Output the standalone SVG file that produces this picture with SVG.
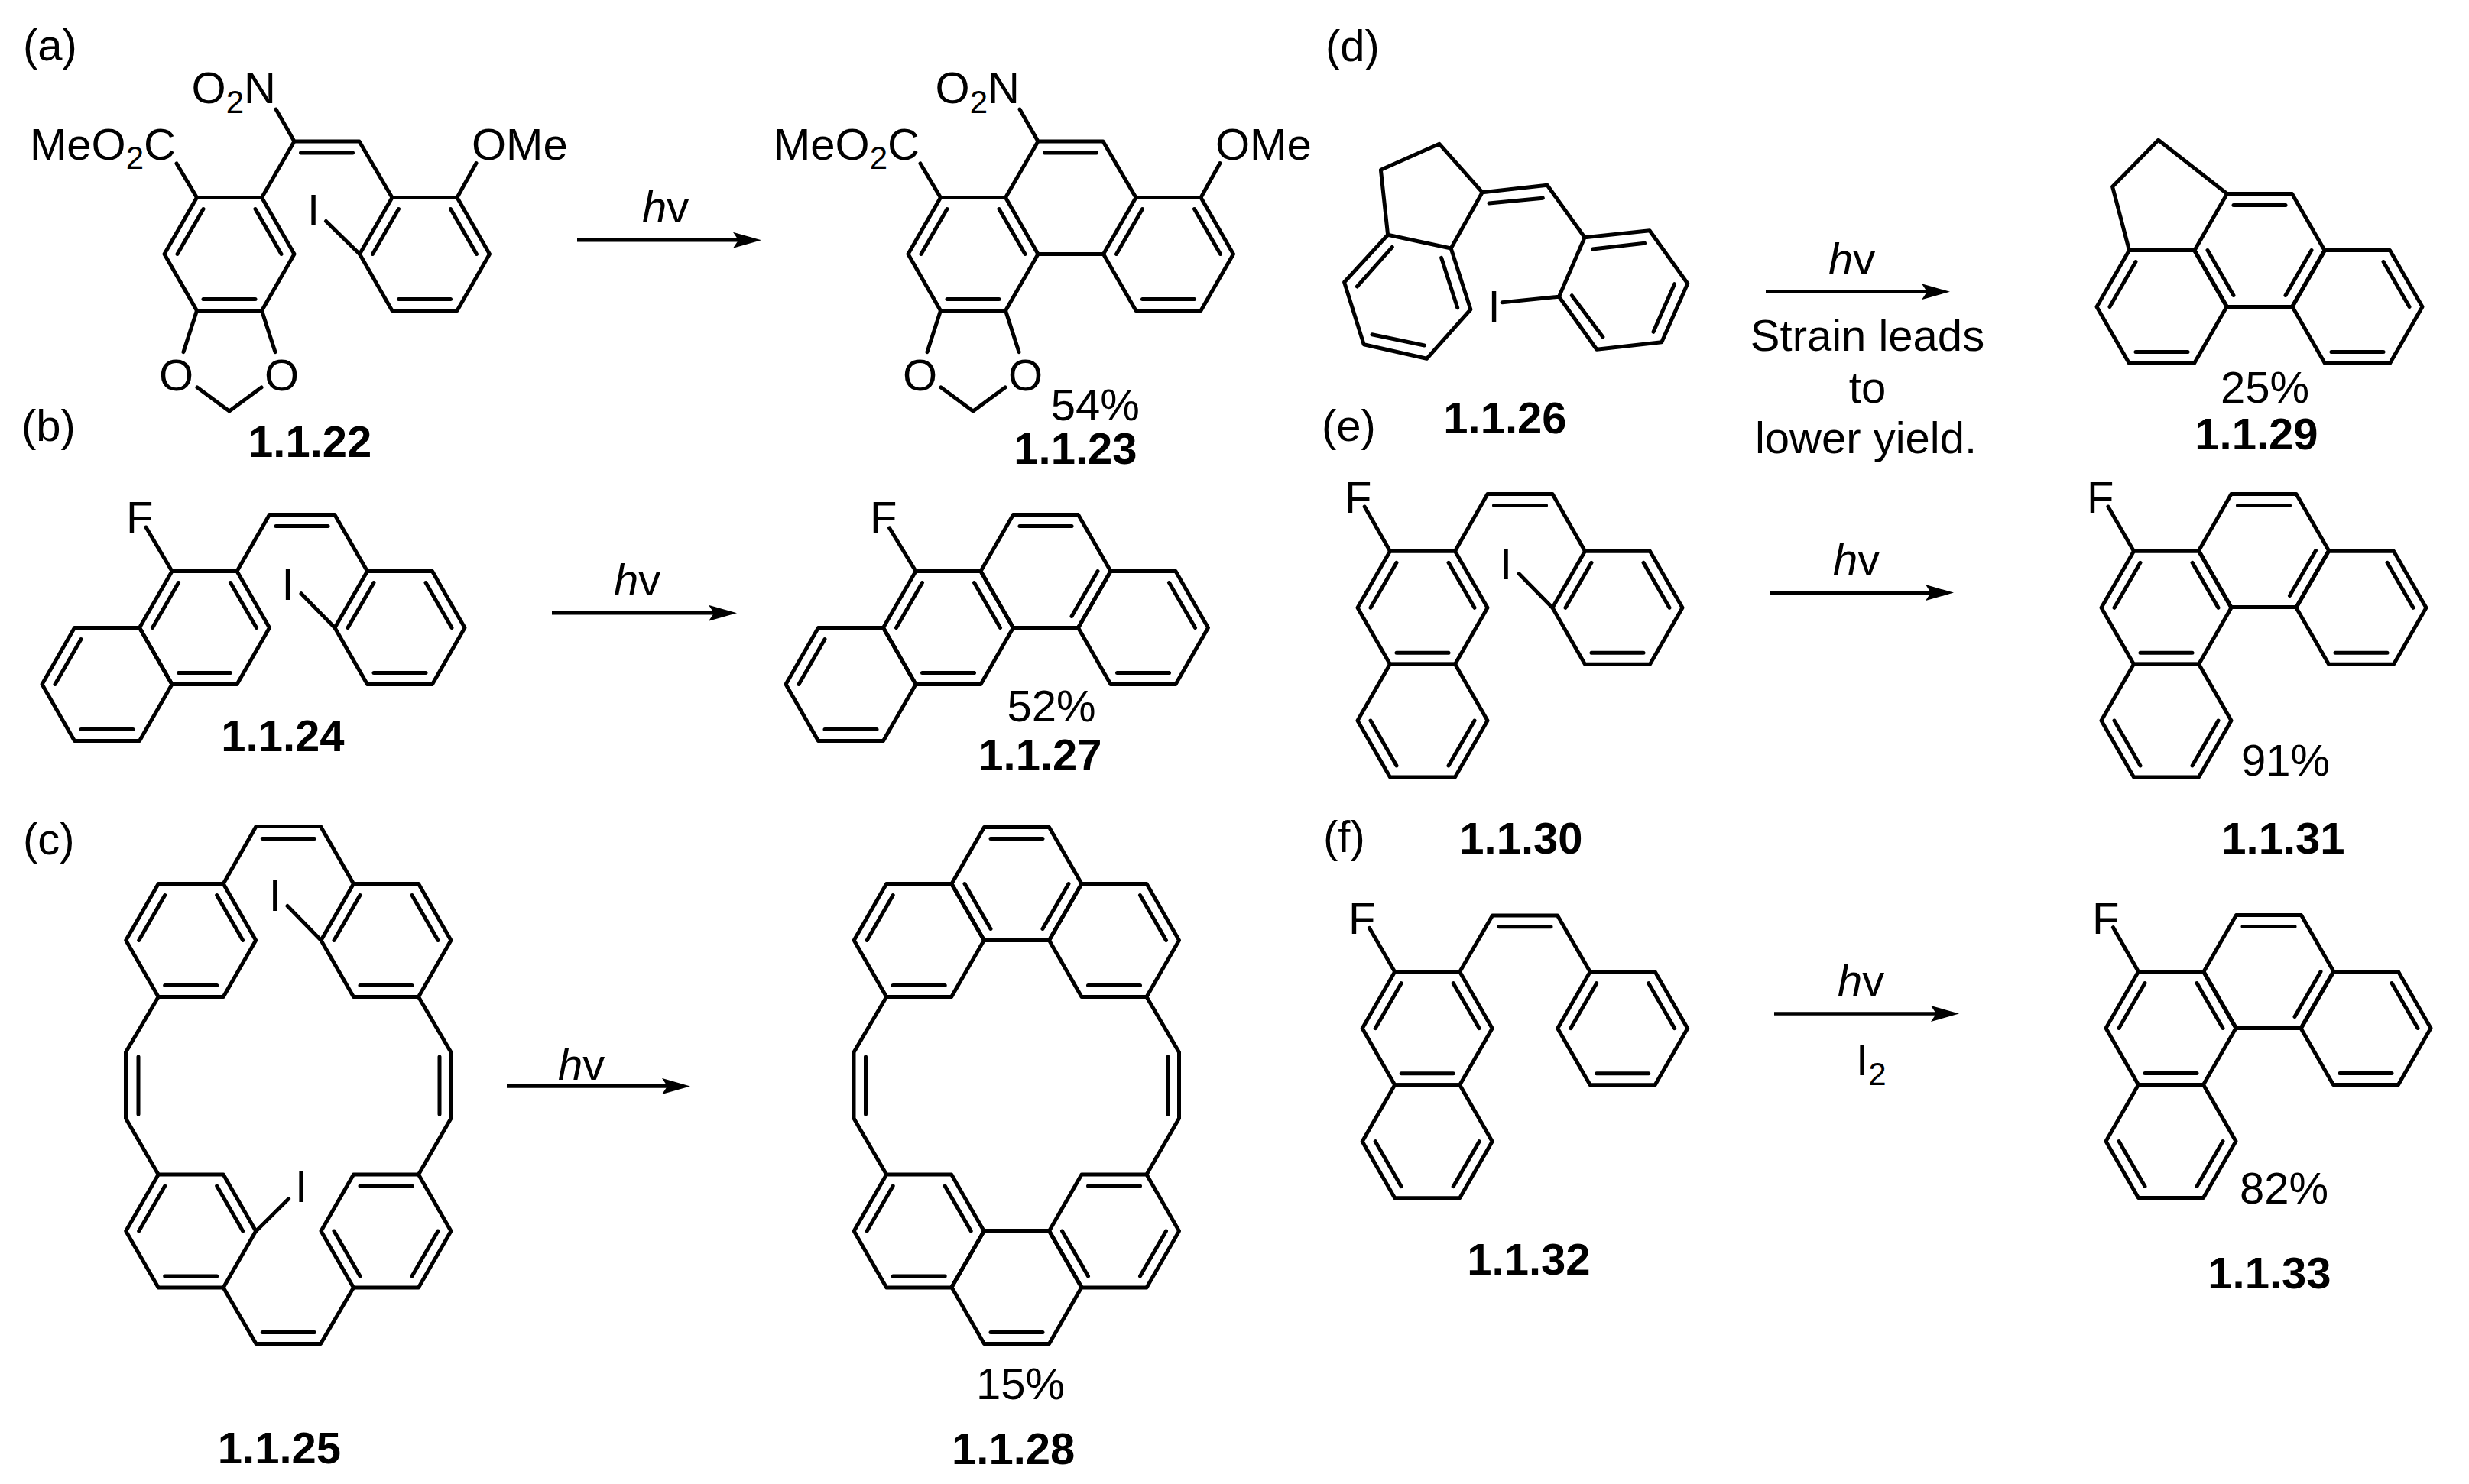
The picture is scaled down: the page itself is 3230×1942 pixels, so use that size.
<svg xmlns="http://www.w3.org/2000/svg" width="3230" height="1942" viewBox="0 0 3230 1942">
<style>
text{font-family:"Liberation Sans",Arial,sans-serif;font-size:58px;fill:#000}
.b{font-weight:700;font-size:58px;text-anchor:middle}
.m{text-anchor:middle}
.s{font-size:42px}
.i{font-style:italic}
path,use{fill:none;stroke:#000;stroke-width:5;stroke-linejoin:round;stroke-linecap:round}
.arrow{stroke-width:4.6;stroke-linecap:butt;marker-end:url(#head)}
</style>
<defs>
<marker id="head" markerUnits="userSpaceOnUse" markerWidth="37" markerHeight="21" refX="7" refY="10.5" orient="auto" viewBox="0 0 37 21"><path d="M0,0 L37,10.5 L0,21 L7,10.5 Z" style="fill:#000;stroke:none"/></marker>
<path id="ring" d="M-42.5,-74 H42.5 L85,0 L42.5,74 H-42.5 L-85,0 Z"/>
<path id="TLL" d="M-34,-59 L-68,0"/>
<path id="TRR" d="M34,-59 L68,0"/>
<path id="LBL" d="M-68,0 L-34,59"/>
<path id="RBR" d="M68,0 L34,59"/>
<path id="T" d="M-34,-59 H34"/>
<path id="B" d="M-34,59 H34"/>
</defs>
<rect width="3230" height="1942" fill="#fff"/>

<g id="panel-labels">
<text x="30" y="79">(a)</text>
<text x="28" y="577">(b)</text>
<text x="30" y="1118">(c)</text>
<text x="1734" y="80">(d)</text>
<text x="1729" y="577">(e)</text>
<text x="1731" y="1115">(f)</text>
</g>

<g id="connectors">
<path class="arrow" d="M755,314.3 H966"/>
<path class="arrow" d="M722,802.3 H934"/>
<path class="arrow" d="M663,1421.4 H873"/>
<path class="arrow" d="M2310,381.7 H2521"/>
<path class="arrow" d="M2316,775.6 H2526"/>
<path class="arrow" d="M2321,1326.5 H2533"/>
<text x="840" y="291"><tspan class="i">h</tspan>v</text>
<text x="803" y="779"><tspan class="i">h</tspan>v</text>
<text x="730" y="1413"><tspan class="i">h</tspan>v</text>
<text x="2392" y="358.5"><tspan class="i">h</tspan>v</text>
<text class="m" x="2443" y="458.5">Strain leads</text>
<text class="m" x="2443" y="526.5">to</text>
<text class="m" x="2441" y="592.5">lower yield.</text>
<text x="2398" y="751.5"><tspan class="i">h</tspan>v</text>
<text x="2404" y="1302.5"><tspan class="i">h</tspan>v</text>
<text x="2428" y="1407">I<tspan class="s" dy="13">2</tspan></text>
</g>

<g id="m1-1-22">
<use href="#ring" x="300" y="332.5"/><use href="#TLL" x="300" y="332.5"/><use href="#TRR" x="300" y="332.5"/><use href="#B" x="300" y="332.5"/>
<use href="#ring" x="555.5" y="332.5"/><use href="#TLL" x="555.5" y="332.5"/><use href="#TRR" x="555.5" y="332.5"/><use href="#B" x="555.5" y="332.5"/>
<use href="#T" x="427.5" y="259"/>
<path d="M342.5,258.5 L385,185 H470 L513,258.5 M385,185 L361,143 M257.5,258.5 L231,214 M598,258.5 L623,213.5 M470.5,332.5 L426.5,289.5 M257.5,406.5 L240,460.6 M342.5,406.5 L360,460.6 M258,507 L300,538 L342,507"/>
<text x="39" y="209">MeO<tspan class="s" dy="12">2</tspan><tspan dy="-12">C</tspan></text>
<text x="250.5" y="134.5">O<tspan class="s" dy="13">2</tspan><tspan dy="-13">N</tspan></text>
<text x="617" y="209">OMe</text>
<text x="402" y="294.5">I</text>
<text x="208" y="511">O</text>
<text x="346" y="511">O</text>
<text class="b" x="405.7" y="598">1.1.22</text>
</g>

<g id="m1-1-23">
<use href="#ring" x="1273" y="332.5"/><use href="#TLL" x="1273" y="332.5"/><use href="#TRR" x="1273" y="332.5"/><use href="#B" x="1273" y="332.5"/>
<use href="#ring" x="1528.5" y="332.5"/><use href="#TLL" x="1528.5" y="332.5"/><use href="#TRR" x="1528.5" y="332.5"/><use href="#B" x="1528.5" y="332.5"/>
<use href="#T" x="1400.5" y="259"/>
<path d="M1315.5,258.5 L1358,185 H1443 L1486,258.5 M1358,332.5 H1443.5 M1358,185 L1334,143 M1230.5,258.5 L1204,214 M1571,258.5 L1596,213.5 M1230.5,406.5 L1213,460.6 M1315.5,406.5 L1333,460.6 M1231,507 L1273,538 L1315,507"/>
<text x="1012" y="209">MeO<tspan class="s" dy="12">2</tspan><tspan dy="-12">C</tspan></text>
<text x="1223.5" y="134.5">O<tspan class="s" dy="13">2</tspan><tspan dy="-13">N</tspan></text>
<text x="1590" y="209">OMe</text>
<text x="1181" y="511">O</text>
<text x="1319" y="511">O</text>
<text class="m" x="1432.7" y="549.5">54%</text>
<text class="b" x="1407" y="607">1.1.23</text>
</g>

<g id="m1-1-24">
<use href="#ring" x="267.5" y="821.5"/><use href="#TLL" x="267.5" y="821.5"/><use href="#TRR" x="267.5" y="821.5"/><use href="#B" x="267.5" y="821.5"/>
<use href="#ring" x="140" y="895.5"/><use href="#TLL" x="140" y="895.5"/><use href="#B" x="140" y="895.5"/>
<use href="#ring" x="523" y="821.5"/><use href="#TLL" x="523" y="821.5"/><use href="#TRR" x="523" y="821.5"/><use href="#B" x="523" y="821.5"/>
<use href="#T" x="395" y="747.5"/>
<path d="M310,747.5 L352.5,673.5 H437.8 L480.5,747.5 M225,747.5 L191,690 M438,821.5 L394,776.7"/>
<text x="165" y="697">F</text>
<text x="368.5" y="785">I</text>
<text class="b" x="370" y="983">1.1.24</text>
</g>

<g id="m1-1-27">
<use href="#ring" x="1240.5" y="821.5"/><use href="#TLL" x="1240.5" y="821.5"/><use href="#TRR" x="1240.5" y="821.5"/><use href="#B" x="1240.5" y="821.5"/>
<use href="#ring" x="1113" y="895.5"/><use href="#TLL" x="1113" y="895.5"/><use href="#B" x="1113" y="895.5"/>
<use href="#ring" x="1368" y="747.5"/><use href="#T" x="1368" y="747.5"/><use href="#RBR" x="1368" y="747.5"/>
<use href="#ring" x="1495.5" y="821.5"/><use href="#TRR" x="1495.5" y="821.5"/><use href="#B" x="1495.5" y="821.5"/>
<path d="M1198,747.5 L1163.6,691"/>
<text x="1138" y="697">F</text>
<text class="m" x="1375.5" y="943.5">52%</text>
<text class="b" x="1361" y="1007.5">1.1.27</text>
</g>

<g id="m1-1-25">
<use href="#ring" x="249.7" y="1230.5"/><use href="#TLL" x="249.7" y="1230.5"/><use href="#TRR" x="249.7" y="1230.5"/><use href="#B" x="249.7" y="1230.5"/>
<use href="#ring" x="505" y="1230.5"/><use href="#TLL" x="505" y="1230.5"/><use href="#TRR" x="505" y="1230.5"/><use href="#B" x="505" y="1230.5"/>
<use href="#ring" x="249.7" y="1611"/><use href="#TLL" x="249.7" y="1611"/><use href="#TRR" x="249.7" y="1611"/><use href="#B" x="249.7" y="1611"/>
<use href="#ring" x="505" y="1611"/><use href="#T" x="505" y="1611"/><use href="#LBL" x="505" y="1611"/><use href="#RBR" x="505" y="1611"/>
<use href="#T" x="377.3" y="1156.5"/><use href="#B" x="377.3" y="1684.5"/>
<path d="M292.2,1156.5 L335,1081.5 H419.5 L462.5,1156.5 M207.2,1304.5 L164.5,1377 V1463.5 L207.2,1537 M181,1383 V1458 M547.5,1304.5 L590,1377 V1463.5 L547.5,1537 M575,1383 V1458 M292.2,1685 L335,1758.5 H419.5 L462.5,1685 M420,1230.5 L376,1185.5 M335,1611 L377.6,1568.8"/>
<text x="351.7" y="1192">I</text>
<text x="386" y="1573">I</text>
<text class="b" x="365.5" y="1914.5">1.1.25</text>
</g>

<g id="m1-1-28">
<use href="#ring" x="1202.2" y="1230.5"/><use href="#TLL" x="1202.2" y="1230.5"/><use href="#B" x="1202.2" y="1230.5"/>
<use href="#ring" x="1330" y="1156.5"/><use href="#T" x="1330" y="1156.5"/><use href="#LBL" x="1330" y="1156.5"/><use href="#RBR" x="1330" y="1156.5"/>
<use href="#ring" x="1457.5" y="1230.5"/><use href="#TRR" x="1457.5" y="1230.5"/><use href="#B" x="1457.5" y="1230.5"/>
<use href="#ring" x="1202.2" y="1611"/><use href="#TLL" x="1202.2" y="1611"/><use href="#TRR" x="1202.2" y="1611"/><use href="#B" x="1202.2" y="1611"/>
<use href="#ring" x="1457.5" y="1611"/><use href="#T" x="1457.5" y="1611"/><use href="#LBL" x="1457.5" y="1611"/><use href="#RBR" x="1457.5" y="1611"/>
<use href="#ring" x="1330" y="1684.5"/><use href="#B" x="1330" y="1684.5"/>
<path d="M1159.7,1304.5 L1117,1377 V1463.5 L1159.7,1537 M1132.5,1383 V1458 M1500,1304.5 L1542.5,1377 V1463.5 L1500,1537 M1528,1383 V1458"/>
<text class="m" x="1335" y="1830.5">15%</text>
<text class="b" x="1325.7" y="1915.5">1.1.28</text>
</g>

<g id="m1-1-26">
<path d="M1806.4,222.3 L1883,188.3 L1939.2,251.7 L1898.2,325 L1815.6,307.3 Z M1815.6,307.3 L1758.6,369.3 L1784.2,450.7 L1866.5,469.3 L1923.9,405 L1898.2,325 M1821.3,323.3 L1775.4,375 M1795,437.7 L1863.4,452 M1885.6,337.3 L1906.7,402.7 M1939.2,251.7 L2024.1,242.3 L2073.1,310.7 M1948,266 L2018.4,259.3 M2073.1,310.7 L2158.1,301.7 L2207.8,371 L2173.8,447.7 L2088.8,457.3 L2039.5,388.3 Z M2083.5,326 L2151.6,318.3 M2190.6,371.7 L2163,434.3 M2096.9,441 L2056.3,386.7 M2039.5,388.3 L1965.2,395.7"/>
<text x="1946.5" y="420.5">I</text>
<text class="b" x="1969" y="566.5">1.1.26</text>
</g>

<g id="m1-1-29">
<use href="#ring" x="2828" y="401.5"/><use href="#TLL" x="2828" y="401.5"/><use href="#B" x="2828" y="401.5"/>
<use href="#ring" x="2956" y="327.5"/><use href="#T" x="2956" y="327.5"/><use href="#LBL" x="2956" y="327.5"/><use href="#RBR" x="2956" y="327.5"/>
<use href="#ring" x="3084" y="401.5"/><use href="#TRR" x="3084" y="401.5"/><use href="#B" x="3084" y="401.5"/>
<path d="M2785.5,327.5 L2763.6,244.3 L2823.6,183.3 L2913.5,253.5"/>
<text class="m" x="2963" y="526.5">25%</text>
<text class="b" x="2952" y="587.5">1.1.29</text>
</g>

<g id="m1-1-30">
<use href="#ring" x="1861" y="795.3"/><use href="#TLL" x="1861" y="795.3"/><use href="#TRR" x="1861" y="795.3"/><use href="#B" x="1861" y="795.3"/>
<use href="#ring" x="1861" y="943"/><use href="#LBL" x="1861" y="943"/><use href="#RBR" x="1861" y="943"/>
<use href="#ring" x="2116" y="795.3"/><use href="#TLL" x="2116" y="795.3"/><use href="#TRR" x="2116" y="795.3"/><use href="#B" x="2116" y="795.3"/>
<use href="#T" x="1988.5" y="720.5"/>
<path d="M1903.5,721.3 L1946,646.5 H2031 L2073.5,721.3 M1818.5,721.3 L1785.2,663 M2031,795.3 L1987.2,750.8"/>
<text x="1759" y="670.5">F</text>
<text x="1962" y="757.5">I</text>
<text class="b" x="1990" y="1116.5">1.1.30</text>
</g>

<g id="m1-1-31">
<use href="#ring" x="2834" y="795.3"/><use href="#TLL" x="2834" y="795.3"/><use href="#TRR" x="2834" y="795.3"/><use href="#B" x="2834" y="795.3"/>
<use href="#ring" x="2961.5" y="720.5"/><use href="#T" x="2961.5" y="720.5"/><use href="#RBR" x="2961.5" y="720.5"/>
<use href="#ring" x="3089" y="795.3"/><use href="#TRR" x="3089" y="795.3"/><use href="#B" x="3089" y="795.3"/>
<use href="#ring" x="2834" y="943"/><use href="#LBL" x="2834" y="943"/><use href="#RBR" x="2834" y="943"/>
<path d="M2791.5,721.3 L2757.9,663"/>
<text x="2730" y="670.5">F</text>
<text class="m" x="2990" y="1014.5">91%</text>
<text class="b" x="2987" y="1116.5">1.1.31</text>
</g>

<g id="m1-1-32">
<use href="#ring" x="1867.2" y="1345.7"/><use href="#TLL" x="1867.2" y="1345.7"/><use href="#TRR" x="1867.2" y="1345.7"/><use href="#B" x="1867.2" y="1345.7"/>
<use href="#ring" x="1867.2" y="1493.7"/><use href="#LBL" x="1867.2" y="1493.7"/><use href="#RBR" x="1867.2" y="1493.7"/>
<use href="#ring" x="2122.7" y="1345.7"/><use href="#TLL" x="2122.7" y="1345.7"/><use href="#TRR" x="2122.7" y="1345.7"/><use href="#B" x="2122.7" y="1345.7"/>
<use href="#T" x="1995" y="1271.7"/>
<path d="M1909.7,1271.7 L1952.5,1198 H2037.5 L2080.2,1271.7 M1824.7,1271.7 L1791.4,1214.3"/>
<text x="1764" y="1221.5">F</text>
<text class="b" x="2000" y="1668">1.1.32</text>
</g>

<g id="m1-1-33">
<use href="#ring" x="2840" y="1345.5"/><use href="#TLL" x="2840" y="1345.5"/><use href="#TRR" x="2840" y="1345.5"/><use href="#B" x="2840" y="1345.5"/>
<use href="#ring" x="2968" y="1271.5"/><use href="#T" x="2968" y="1271.5"/><use href="#RBR" x="2968" y="1271.5"/>
<use href="#ring" x="3095" y="1345.5"/><use href="#TRR" x="3095" y="1345.5"/><use href="#B" x="3095" y="1345.5"/>
<use href="#ring" x="2840" y="1493.5"/><use href="#LBL" x="2840" y="1493.5"/><use href="#RBR" x="2840" y="1493.5"/>
<path d="M2797.5,1271.5 L2764.4,1213.6"/>
<text x="2737" y="1221.5">F</text>
<text class="m" x="2988" y="1574.5">82%</text>
<text class="b" x="2969" y="1685.5">1.1.33</text>
</g>
</svg>
